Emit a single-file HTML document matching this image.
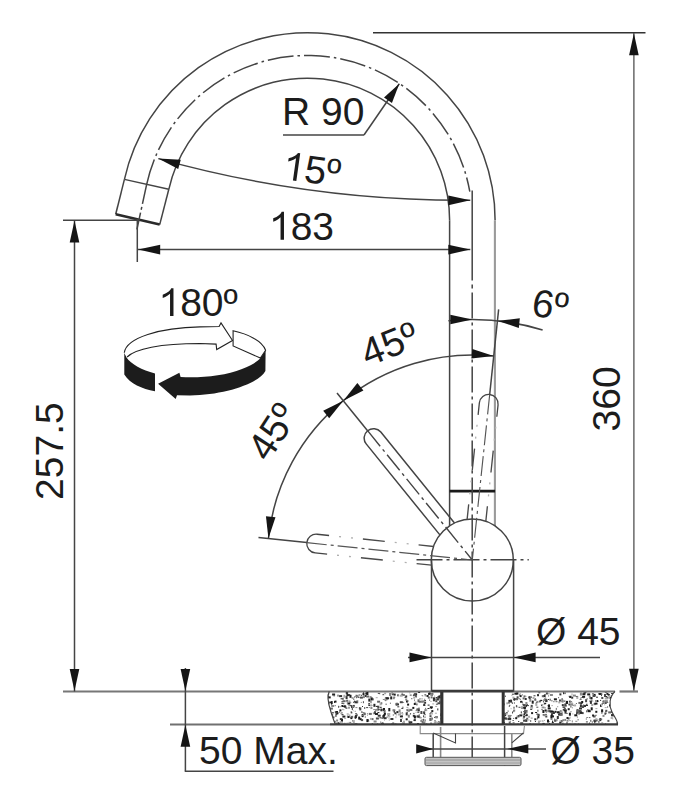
<!DOCTYPE html><html><head><meta charset="utf-8"><style>html,body{margin:0;padding:0;background:#fff;overflow:hidden}svg{display:block}text{font-family:"Liberation Sans",sans-serif}</style></head><body><svg width="700" height="799" viewBox="0 0 700 799">
<rect width="700" height="799" fill="#fff"/>
<path d="M124.42 179.38A187.6 187.6 0 0 1 495.1 220.3" fill="none" stroke="#444" stroke-width="1.5" />
<path d="M168.82 189.3A142.1 142.1 0 0 1 449.6 220.3" fill="none" stroke="#444" stroke-width="1.5" />
<path d="M146.67 184.35A164.8 164.8 0 0 1 469.8 191.68" fill="none" stroke="#444" stroke-width="1.5" stroke-dasharray="26 4 2.5 4" />
<line x1="494.9" y1="220.3" x2="494.9" y2="525.92" stroke="#9a9a9a" stroke-width="2.1" stroke-linecap="butt"/>
<line x1="449.6" y1="220.3" x2="449.6" y2="525.86" stroke="#444" stroke-width="1.5" stroke-linecap="butt"/>
<line x1="449.6" y1="491.2" x2="495.1" y2="491.2" stroke="#1a1a1a" stroke-width="2.8" stroke-linecap="butt"/>
<line x1="124.42" y1="179.38" x2="115.7" y2="214.3" stroke="#444" stroke-width="1.5" stroke-linecap="butt"/>
<line x1="168.82" y1="189.3" x2="159.7" y2="224.6" stroke="#444" stroke-width="1.5" stroke-linecap="butt"/>
<line x1="124.42" y1="179.38" x2="168.82" y2="189.3" stroke="#444" stroke-width="1.5" stroke-linecap="butt"/>
<line x1="115.7" y1="214.3" x2="159.7" y2="224.6" stroke="#2a2a2a" stroke-width="2.6" stroke-linecap="butt"/>
<line x1="146.67" y1="184.35" x2="136.9" y2="229.5" stroke="#444" stroke-width="1.5" stroke-dasharray="20 3 3 3" stroke-linecap="butt"/>
<line x1="373" y1="32.7" x2="645.5" y2="32.7" stroke="#333" stroke-width="1.6" stroke-linecap="butt"/>
<line x1="633.9" y1="33" x2="633.9" y2="691" stroke="#444" stroke-width="1.2" stroke-linecap="butt"/>
<path d="M633.9 33.2L638.7 55.2L629.1 55.2Z" fill="#151515"/>
<path d="M633.9 690.8L629.1 668.8L638.7 668.8Z" fill="#151515"/>
<line x1="63" y1="691.5" x2="615" y2="691.5" stroke="#777" stroke-width="2.2" stroke-linecap="butt"/>
<line x1="619.5" y1="691.5" x2="638" y2="691.5" stroke="#777" stroke-width="2.2" stroke-linecap="butt"/>
<line x1="63" y1="220.2" x2="137.3" y2="220.2" stroke="#444" stroke-width="1.5" stroke-linecap="butt"/>
<line x1="74.5" y1="220.2" x2="74.5" y2="691.4" stroke="#444" stroke-width="1.5" stroke-linecap="butt"/>
<path d="M74.5 220.6L79.3 242.6L69.7 242.6Z" fill="#151515"/>
<path d="M74.5 691L69.7 669L79.3 669Z" fill="#151515"/>
<line x1="137.3" y1="219" x2="137.3" y2="262" stroke="#444" stroke-width="1.5" stroke-linecap="butt"/>
<line x1="138" y1="249.6" x2="470.3" y2="249.6" stroke="#444" stroke-width="1.5" stroke-linecap="butt"/>
<path d="M138.2 249.6L160.2 244.8L160.2 254.4Z" fill="#151515"/>
<path d="M470.3 249.6L448.3 254.4L448.3 244.8Z" fill="#151515"/>
<path d="M158.3 158.6A1130.4 1130.4 0 0 0 470.3 200.2" fill="none" stroke="#444" stroke-width="1.5" />
<path d="M158.3 158.6L180.78 159.82L178.23 169.08Z" fill="#151515"/>
<path d="M470.3 200.2L448.35 205.22L448.25 195.62Z" fill="#151515"/>
<line x1="283" y1="135" x2="364" y2="135" stroke="#444" stroke-width="1.5" stroke-linecap="butt"/>
<line x1="364" y1="135" x2="399.3" y2="83.7" stroke="#444" stroke-width="1.5" stroke-linecap="butt"/>
<path d="M399.3 83.7L391.92 102.9L384.01 97.46Z" fill="#151515"/>
<circle cx="472.3" cy="560" r="41" fill="none" stroke="#444" stroke-width="1.5"/>
<line x1="431.5" y1="560" x2="431.5" y2="691.4" stroke="#444" stroke-width="1.5" stroke-linecap="butt"/>
<line x1="513.6" y1="560" x2="513.6" y2="691.4" stroke="#444" stroke-width="1.5" stroke-linecap="butt"/>
<line x1="416.5" y1="559.8" x2="528.8" y2="559.8" stroke="#444" stroke-width="1.5" stroke-dasharray="26 4 3 4" stroke-linecap="butt"/>
<line x1="472.2" y1="190.5" x2="472.2" y2="758" stroke="#444" stroke-width="1.5" stroke-dasharray="90 4 4 4 26 4 3 4 26 4 3 4 26 4 3 4 26 4 3 4 26 4 3 4 26 4 3 4 26 4 3 4 26 4 3 4 26 4 3 4 26 4 3 4 26 4 3 4 26 4 3 4 26 4 3 4 26 4 3 4 26 4 3 4 26 4 3 4 200" stroke-linecap="butt"/>
<line x1="408" y1="657.4" x2="600" y2="657.4" stroke="#444" stroke-width="1.5" stroke-linecap="butt"/>
<path d="M431.5 657.4L409.5 662.2L409.5 652.6Z" fill="#151515"/>
<path d="M513.6 657.4L535.6 652.6L535.6 662.2Z" fill="#151515"/>
<path d="M478.11 414.81L479.36 402.88A9.4 9.4 0 0 1 498.06 404.84L496.81 416.78" fill="none" stroke="#444" stroke-width="1.3" />
<line x1="496.81" y1="416.78" x2="485.82" y2="521.29" stroke="#4a4a4a" stroke-width="1.35" stroke-dasharray="22 34" stroke-dashoffset="22"/>
<line x1="496.81" y1="416.78" x2="485.82" y2="521.29" stroke="#b0b0b0" stroke-width="1.3" stroke-dasharray="2 10 2 42" stroke-dashoffset="46"/>
<line x1="478.11" y1="414.81" x2="467.12" y2="519.33" stroke="#4a4a4a" stroke-width="1.35" stroke-dasharray="22 34" stroke-dashoffset="22"/>
<line x1="478.11" y1="414.81" x2="467.12" y2="519.33" stroke="#b0b0b0" stroke-width="1.3" stroke-dasharray="2 10 2 42" stroke-dashoffset="46"/>
<line x1="489.69" y1="394.51" x2="472.3" y2="560" stroke="#555" stroke-width="1.15" stroke-dasharray="20 4 3 4" stroke-linecap="butt"/>
<line x1="489.69" y1="394.51" x2="498.64" y2="309.38" stroke="#444" stroke-width="1.5" stroke-linecap="butt"/>
<path d="M454.49 523.07L380.8 432.07A9.4 9.4 0 0 0 366.19 443.9L439.88 534.9" fill="none" stroke="#444" stroke-width="1.5" />
<line x1="367.58" y1="430.68" x2="472.3" y2="560" stroke="#444" stroke-width="1.4" stroke-dasharray="20 4 3 4" stroke-linecap="butt"/>
<line x1="367.58" y1="430.68" x2="337" y2="392.91" stroke="#444" stroke-width="1.5" stroke-linecap="butt"/>
<path d="M327.11 554.19L315.18 552.94A9.4 9.4 0 0 1 317.14 534.24L329.08 535.49" fill="none" stroke="#444" stroke-width="1.3" />
<line x1="329.08" y1="535.49" x2="433.59" y2="546.48" stroke="#4a4a4a" stroke-width="1.35" stroke-dasharray="22 34" stroke-dashoffset="22"/>
<line x1="329.08" y1="535.49" x2="433.59" y2="546.48" stroke="#b0b0b0" stroke-width="1.3" stroke-dasharray="2 10 2 42" stroke-dashoffset="46"/>
<line x1="327.11" y1="554.19" x2="431.63" y2="565.18" stroke="#4a4a4a" stroke-width="1.35" stroke-dasharray="22 34" stroke-dashoffset="22"/>
<line x1="327.11" y1="554.19" x2="431.63" y2="565.18" stroke="#b0b0b0" stroke-width="1.3" stroke-dasharray="2 10 2 42" stroke-dashoffset="46"/>
<line x1="306.81" y1="542.61" x2="472.3" y2="560" stroke="#555" stroke-width="1.15" stroke-dasharray="20 4 3 4" stroke-linecap="butt"/>
<line x1="306.81" y1="542.61" x2="258.48" y2="537.53" stroke="#444" stroke-width="1.5" stroke-linecap="butt"/>
<path d="M448.41 320.69A240.5 240.5 0 0 1 542.62 330.01" fill="none" stroke="#444" stroke-width="1.5" />
<path d="M472.3 319.5L450.3 324.3L450.3 314.7Z" fill="#151515"/>
<path d="M497.44 320.82L519.82 318.34L518.82 327.89Z" fill="#151515"/>
<path d="M343.29 400.69A205 205 0 0 1 493.73 356.12" fill="none" stroke="#444" stroke-width="1.5" />
<path d="M493.73 356.12L471.35 358.6L472.35 349.05Z" fill="#151515"/>
<path d="M343.29 400.69L357.37 383.11L363.41 390.57Z" fill="#151515"/>
<path d="M268.42 538.57A205 205 0 0 1 343.29 400.69" fill="none" stroke="#444" stroke-width="1.5" />
<path d="M343.29 400.69L329.21 418.26L323.17 410.8Z" fill="#151515"/>
<path d="M268.42 538.57L265.95 516.19L275.5 517.19Z" fill="#151515"/>
<clipPath id="cl"><path d="M329.3 691.4C326 697 329 706 331 712C333 718 334 722 335.7 724.8L441.8 724.8L441.8 691.4Z"/></clipPath>
<clipPath id="cr"><path d="M503.2 691.4L615 691.4C609.5 697 608.5 705 612 712C615 718 618 721 617.5 724.4L503.2 724.8Z"/></clipPath>
<g clip-path="url(#cl)">
<rect x="362.5" y="697.0" width="1" height="1" fill="#1a1a1a"/>
<rect x="421.7" y="695.1" width="1" height="1" fill="#666"/>
<rect x="349.5" y="694.8" width="2" height="3" fill="#1a1a1a"/>
<rect x="352.6" y="710.2" width="1" height="1" fill="#aaa"/>
<rect x="391.3" y="723.3" width="1" height="1" fill="#666"/>
<rect x="393.7" y="693.6" width="2" height="2" fill="#1a1a1a"/>
<rect x="390.2" y="696.4" width="2" height="3" fill="#222"/>
<rect x="388.3" y="710.8" width="2" height="1" fill="#aaa"/>
<rect x="405.2" y="695.4" width="2" height="2" fill="#333"/>
<rect x="335.6" y="715.5" width="1" height="1" fill="#666"/>
<rect x="348.5" y="714.5" width="2" height="3" fill="#aaa"/>
<rect x="361.4" y="711.3" width="1" height="1" fill="#333"/>
<rect x="359.7" y="718.2" width="2" height="2" fill="#1a1a1a"/>
<rect x="392.4" y="709.3" width="3" height="2" fill="#888"/>
<rect x="377.4" y="712.1" width="2" height="1" fill="#1a1a1a"/>
<rect x="384.9" y="697.4" width="3" height="2" fill="#222"/>
<rect x="435.1" y="705.9" width="2" height="1" fill="#aaa"/>
<rect x="390.4" y="718.0" width="3" height="2" fill="#333"/>
<rect x="406.7" y="711.6" width="1" height="1" fill="#1a1a1a"/>
<rect x="424.0" y="723.2" width="1" height="1" fill="#888"/>
<rect x="403.0" y="694.0" width="2" height="2" fill="#888"/>
<rect x="392.8" y="714.5" width="1" height="1" fill="#333"/>
<rect x="409.3" y="721.3" width="3" height="2" fill="#1a1a1a"/>
<rect x="435.9" y="703.7" width="2" height="1" fill="#4a4a4a"/>
<rect x="331.0" y="717.4" width="1" height="2" fill="#888"/>
<rect x="353.5" y="704.9" width="1" height="1" fill="#1a1a1a"/>
<rect x="343.8" y="705.3" width="2" height="2" fill="#222"/>
<rect x="421.5" y="720.5" width="2" height="2" fill="#888"/>
<rect x="373.4" y="703.8" width="2" height="3" fill="#222"/>
<rect x="342.0" y="697.8" width="2" height="2" fill="#888"/>
<rect x="351.8" y="708.0" width="1" height="2" fill="#333"/>
<rect x="357.5" y="696.8" width="2" height="1" fill="#333"/>
<rect x="396.6" y="702.5" width="1" height="2" fill="#888"/>
<rect x="426.2" y="723.4" width="1" height="1" fill="#4a4a4a"/>
<rect x="431.0" y="717.7" width="2" height="1" fill="#4a4a4a"/>
<rect x="371.4" y="705.0" width="1" height="1" fill="#888"/>
<rect x="371.7" y="698.3" width="2" height="2" fill="#4a4a4a"/>
<rect x="343.3" y="703.2" width="1" height="1" fill="#1a1a1a"/>
<rect x="324.0" y="697.0" width="2" height="1" fill="#333"/>
<rect x="397.0" y="694.3" width="2" height="2" fill="#666"/>
<rect x="368.8" y="712.9" width="3" height="2" fill="#666"/>
<rect x="367.3" y="696.1" width="1" height="1" fill="#4a4a4a"/>
<rect x="381.2" y="702.3" width="1" height="2" fill="#1a1a1a"/>
<rect x="413.2" y="716.4" width="1" height="1" fill="#aaa"/>
<rect x="406.4" y="709.0" width="2" height="2" fill="#666"/>
<rect x="367.0" y="714.8" width="1" height="1" fill="#aaa"/>
<rect x="386.8" y="724.3" width="2" height="1" fill="#888"/>
<rect x="424.6" y="709.1" width="1" height="2" fill="#333"/>
<rect x="415.9" y="709.6" width="2" height="1" fill="#333"/>
<rect x="399.7" y="712.2" width="2" height="2" fill="#aaa"/>
<rect x="352.5" y="705.2" width="2" height="2" fill="#222"/>
<rect x="385.6" y="703.7" width="1" height="1" fill="#1a1a1a"/>
<rect x="418.0" y="707.6" width="2" height="2" fill="#888"/>
<rect x="396.0" y="703.4" width="3" height="2" fill="#333"/>
<rect x="333.6" y="695.4" width="1" height="1" fill="#222"/>
<rect x="364.2" y="707.9" width="1" height="1" fill="#4a4a4a"/>
<rect x="432.2" y="703.4" width="2" height="1" fill="#aaa"/>
<rect x="402.6" y="722.0" width="2" height="2" fill="#4a4a4a"/>
<rect x="429.8" y="706.3" width="3" height="2" fill="#1a1a1a"/>
<rect x="419.3" y="724.1" width="2" height="3" fill="#4a4a4a"/>
<rect x="371.8" y="723.2" width="1" height="2" fill="#222"/>
<rect x="442.2" y="692.9" width="1" height="1" fill="#aaa"/>
<rect x="402.0" y="712.2" width="1" height="1" fill="#888"/>
<rect x="435.6" y="697.1" width="2" height="1" fill="#222"/>
<rect x="326.5" y="718.4" width="2" height="1" fill="#666"/>
<rect x="413.2" y="696.6" width="2" height="2" fill="#aaa"/>
<rect x="428.0" y="692.9" width="2" height="2" fill="#333"/>
<rect x="383.6" y="717.2" width="3" height="2" fill="#333"/>
<rect x="388.8" y="719.5" width="1" height="1" fill="#888"/>
<rect x="366.1" y="707.1" width="2" height="1" fill="#4a4a4a"/>
<rect x="422.4" y="721.0" width="1" height="2" fill="#666"/>
<rect x="342.1" y="708.8" width="1" height="1" fill="#aaa"/>
<rect x="345.8" y="692.1" width="1" height="2" fill="#222"/>
<rect x="340.8" y="712.4" width="2" height="1" fill="#666"/>
<rect x="331.3" y="714.5" width="2" height="1" fill="#666"/>
<rect x="381.4" y="717.6" width="2" height="1" fill="#1a1a1a"/>
<rect x="353.6" y="701.1" width="2" height="1" fill="#666"/>
<rect x="377.8" y="692.9" width="2" height="1" fill="#4a4a4a"/>
<rect x="362.7" y="724.1" width="2" height="1" fill="#222"/>
<rect x="406.4" y="706.9" width="2" height="1" fill="#aaa"/>
<rect x="380.9" y="723.1" width="2" height="1" fill="#333"/>
<rect x="433.8" y="721.5" width="2" height="2" fill="#aaa"/>
<rect x="377.3" y="705.7" width="2" height="3" fill="#4a4a4a"/>
<rect x="361.6" y="714.1" width="2" height="3" fill="#1a1a1a"/>
<rect x="349.3" y="702.0" width="2" height="1" fill="#aaa"/>
<rect x="342.4" y="715.6" width="3" height="2" fill="#222"/>
<rect x="354.1" y="696.5" width="1" height="1" fill="#222"/>
<rect x="412.9" y="695.1" width="1" height="1" fill="#222"/>
<rect x="441.8" y="719.5" width="1" height="2" fill="#888"/>
<rect x="375.4" y="709.0" width="3" height="2" fill="#4a4a4a"/>
<rect x="347.3" y="702.5" width="3" height="2" fill="#1a1a1a"/>
<rect x="364.2" y="707.1" width="1" height="1" fill="#4a4a4a"/>
<rect x="363.4" y="712.6" width="2" height="1" fill="#1a1a1a"/>
<rect x="337.4" y="722.3" width="2" height="2" fill="#1a1a1a"/>
<rect x="334.0" y="701.0" width="1" height="2" fill="#333"/>
<rect x="413.9" y="719.1" width="2" height="2" fill="#4a4a4a"/>
<rect x="341.8" y="722.3" width="1" height="1" fill="#888"/>
<rect x="362.9" y="701.2" width="1" height="2" fill="#4a4a4a"/>
<rect x="430.5" y="700.9" width="1" height="1" fill="#888"/>
<rect x="334.5" y="700.6" width="2" height="2" fill="#1a1a1a"/>
<rect x="355.5" y="696.0" width="1" height="1" fill="#333"/>
<rect x="442.3" y="705.8" width="2" height="2" fill="#666"/>
<rect x="339.4" y="709.4" width="2" height="2" fill="#1a1a1a"/>
<rect x="439.3" y="700.6" width="1" height="2" fill="#222"/>
<rect x="434.9" y="712.7" width="2" height="1" fill="#aaa"/>
<rect x="348.5" y="706.7" width="1" height="2" fill="#333"/>
<rect x="365.3" y="692.6" width="2" height="2" fill="#1a1a1a"/>
<rect x="325.8" y="716.2" width="2" height="1" fill="#222"/>
<rect x="385.2" y="700.1" width="1" height="1" fill="#1a1a1a"/>
<rect x="402.3" y="713.5" width="1" height="1" fill="#666"/>
<rect x="423.3" y="705.0" width="2" height="1" fill="#333"/>
<rect x="405.8" y="724.4" width="3" height="2" fill="#222"/>
<rect x="423.0" y="715.3" width="1" height="2" fill="#4a4a4a"/>
<rect x="441.7" y="724.4" width="1" height="2" fill="#1a1a1a"/>
<rect x="332.4" y="716.4" width="2" height="2" fill="#4a4a4a"/>
<rect x="343.4" y="694.8" width="2" height="3" fill="#aaa"/>
<rect x="384.2" y="724.0" width="2" height="2" fill="#888"/>
<rect x="358.9" y="707.2" width="1" height="2" fill="#333"/>
<rect x="377.1" y="700.7" width="3" height="2" fill="#666"/>
<rect x="362.5" y="693.1" width="2" height="2" fill="#222"/>
<rect x="366.4" y="692.0" width="2" height="3" fill="#1a1a1a"/>
<rect x="380.5" y="708.6" width="2" height="2" fill="#222"/>
<rect x="384.1" y="692.2" width="2" height="2" fill="#aaa"/>
<rect x="334.7" y="705.2" width="1" height="1" fill="#4a4a4a"/>
<rect x="326.7" y="702.0" width="2" height="2" fill="#1a1a1a"/>
<rect x="393.7" y="709.5" width="1" height="2" fill="#888"/>
<rect x="430.2" y="717.9" width="2" height="3" fill="#aaa"/>
<rect x="362.8" y="724.5" width="1" height="2" fill="#333"/>
<rect x="410.2" y="713.2" width="1" height="1" fill="#aaa"/>
<rect x="423.4" y="721.4" width="2" height="3" fill="#888"/>
<rect x="407.4" y="708.7" width="2" height="1" fill="#aaa"/>
<rect x="384.0" y="719.6" width="1" height="1" fill="#aaa"/>
<rect x="405.7" y="718.3" width="2" height="2" fill="#1a1a1a"/>
<rect x="327.7" y="696.4" width="3" height="2" fill="#1a1a1a"/>
<rect x="368.8" y="706.9" width="1" height="1" fill="#888"/>
<rect x="326.2" y="709.5" width="2" height="2" fill="#4a4a4a"/>
<rect x="355.4" y="707.1" width="2" height="1" fill="#888"/>
<rect x="435.0" y="721.6" width="2" height="1" fill="#888"/>
<rect x="386.6" y="716.6" width="1" height="1" fill="#333"/>
<rect x="420.3" y="719.9" width="2" height="2" fill="#888"/>
<rect x="414.0" y="699.6" width="1" height="1" fill="#4a4a4a"/>
<rect x="424.6" y="694.5" width="2" height="2" fill="#aaa"/>
<rect x="329.6" y="712.9" width="2" height="2" fill="#1a1a1a"/>
<rect x="395.4" y="702.9" width="2" height="2" fill="#666"/>
<rect x="391.6" y="692.4" width="1" height="1" fill="#4a4a4a"/>
<rect x="356.0" y="714.2" width="2" height="2" fill="#888"/>
<rect x="382.3" y="715.4" width="2" height="2" fill="#4a4a4a"/>
<rect x="379.4" y="717.3" width="2" height="1" fill="#222"/>
<rect x="361.1" y="694.8" width="1" height="1" fill="#1a1a1a"/>
<rect x="358.5" y="694.5" width="2" height="1" fill="#4a4a4a"/>
<rect x="442.3" y="704.8" width="2" height="2" fill="#1a1a1a"/>
<rect x="393.2" y="696.7" width="2" height="1" fill="#333"/>
<rect x="437.4" y="696.4" width="2" height="1" fill="#333"/>
<rect x="429.5" y="715.2" width="2" height="2" fill="#4a4a4a"/>
<rect x="430.8" y="708.0" width="1" height="1" fill="#222"/>
<rect x="324.4" y="708.2" width="1" height="1" fill="#4a4a4a"/>
<rect x="359.9" y="696.6" width="3" height="2" fill="#4a4a4a"/>
<rect x="361.6" y="719.7" width="1" height="1" fill="#333"/>
<rect x="413.3" y="719.7" width="2" height="1" fill="#222"/>
<rect x="408.8" y="721.8" width="2" height="2" fill="#333"/>
<rect x="368.3" y="705.0" width="2" height="1" fill="#333"/>
<rect x="434.1" y="716.9" width="1" height="1" fill="#333"/>
<rect x="336.1" y="719.5" width="2" height="2" fill="#888"/>
<rect x="435.3" y="700.2" width="2" height="2" fill="#4a4a4a"/>
<rect x="384.8" y="698.3" width="3" height="2" fill="#aaa"/>
<rect x="437.8" y="721.2" width="2" height="3" fill="#666"/>
<rect x="389.4" y="715.7" width="1" height="1" fill="#888"/>
<rect x="372.9" y="712.3" width="1" height="2" fill="#888"/>
<rect x="427.5" y="708.0" width="2" height="1" fill="#222"/>
<rect x="344.3" y="705.7" width="2" height="2" fill="#333"/>
<rect x="354.4" y="716.4" width="2" height="2" fill="#4a4a4a"/>
<rect x="402.1" y="701.9" width="2" height="1" fill="#888"/>
<rect x="370.9" y="697.5" width="1" height="2" fill="#1a1a1a"/>
<rect x="348.7" y="721.9" width="1" height="1" fill="#666"/>
<rect x="350.2" y="721.9" width="1" height="1" fill="#4a4a4a"/>
<rect x="340.6" y="698.3" width="2" height="1" fill="#222"/>
<rect x="364.7" y="695.0" width="2" height="2" fill="#333"/>
<rect x="354.7" y="710.8" width="1" height="1" fill="#888"/>
<rect x="427.6" y="704.6" width="2" height="1" fill="#222"/>
<rect x="368.8" y="703.2" width="1" height="1" fill="#4a4a4a"/>
<rect x="357.0" y="723.9" width="1" height="2" fill="#888"/>
<rect x="383.9" y="712.8" width="2" height="2" fill="#1a1a1a"/>
<rect x="356.3" y="700.2" width="2" height="3" fill="#888"/>
<rect x="377.1" y="723.5" width="1" height="1" fill="#222"/>
<rect x="327.8" y="715.4" width="1" height="1" fill="#666"/>
<rect x="382.3" y="694.4" width="2" height="1" fill="#aaa"/>
<rect x="379.7" y="706.8" width="2" height="1" fill="#222"/>
<rect x="342.4" y="709.2" width="2" height="1" fill="#aaa"/>
<rect x="409.9" y="713.4" width="1" height="1" fill="#1a1a1a"/>
<rect x="389.6" y="693.3" width="1" height="2" fill="#222"/>
<rect x="391.8" y="693.2" width="2" height="2" fill="#222"/>
<rect x="398.6" y="709.4" width="2" height="3" fill="#888"/>
<rect x="414.9" y="695.3" width="2" height="2" fill="#666"/>
<rect x="436.3" y="698.3" width="2" height="2" fill="#222"/>
<rect x="418.1" y="692.0" width="2" height="1" fill="#333"/>
<rect x="442.6" y="701.2" width="3" height="2" fill="#888"/>
<rect x="423.9" y="700.0" width="2" height="1" fill="#222"/>
<rect x="389.1" y="693.0" width="2" height="3" fill="#888"/>
<rect x="401.3" y="693.8" width="2" height="2" fill="#4a4a4a"/>
<rect x="429.3" y="713.4" width="2" height="1" fill="#333"/>
<rect x="351.1" y="706.0" width="3" height="2" fill="#222"/>
<rect x="382.7" y="715.0" width="2" height="3" fill="#333"/>
<rect x="405.2" y="698.5" width="2" height="2" fill="#888"/>
<rect x="424.6" y="694.2" width="1" height="1" fill="#222"/>
<rect x="361.1" y="719.1" width="2" height="2" fill="#4a4a4a"/>
<rect x="350.4" y="717.1" width="2" height="2" fill="#1a1a1a"/>
<rect x="437.3" y="708.4" width="1" height="2" fill="#222"/>
<rect x="381.7" y="722.0" width="1" height="1" fill="#666"/>
<rect x="341.4" y="705.0" width="2" height="2" fill="#1a1a1a"/>
<rect x="439.9" y="696.7" width="1" height="1" fill="#888"/>
<rect x="331.2" y="705.0" width="3" height="2" fill="#888"/>
<rect x="337.5" y="694.6" width="1" height="2" fill="#333"/>
<rect x="346.7" y="713.5" width="2" height="1" fill="#888"/>
<rect x="379.6" y="702.3" width="2" height="3" fill="#aaa"/>
<rect x="368.5" y="702.9" width="1" height="2" fill="#1a1a1a"/>
<rect x="324.3" y="701.2" width="3" height="2" fill="#4a4a4a"/>
<rect x="437.7" y="696.1" width="2" height="2" fill="#4a4a4a"/>
<rect x="366.4" y="719.1" width="2" height="3" fill="#1a1a1a"/>
<rect x="329.9" y="707.6" width="3" height="2" fill="#666"/>
<rect x="433.4" y="698.4" width="3" height="2" fill="#888"/>
<rect x="430.7" y="693.0" width="2" height="3" fill="#222"/>
<rect x="420.6" y="717.3" width="1" height="1" fill="#4a4a4a"/>
<rect x="328.1" y="694.1" width="1" height="1" fill="#333"/>
<rect x="347.2" y="694.1" width="3" height="2" fill="#333"/>
<rect x="356.4" y="723.6" width="1" height="1" fill="#333"/>
<rect x="412.8" y="714.8" width="2" height="2" fill="#333"/>
<rect x="324.4" y="716.9" width="2" height="1" fill="#1a1a1a"/>
<rect x="422.3" y="695.5" width="1" height="1" fill="#aaa"/>
<rect x="370.0" y="700.3" width="2" height="3" fill="#aaa"/>
<rect x="382.7" y="722.6" width="1" height="2" fill="#1a1a1a"/>
<rect x="419.5" y="716.4" width="1" height="2" fill="#666"/>
<rect x="352.1" y="720.4" width="1" height="1" fill="#333"/>
<rect x="417.3" y="711.7" width="2" height="1" fill="#222"/>
<rect x="370.6" y="697.3" width="2" height="3" fill="#1a1a1a"/>
<rect x="401.3" y="707.9" width="2" height="1" fill="#333"/>
<rect x="343.1" y="706.1" width="2" height="1" fill="#1a1a1a"/>
<rect x="355.5" y="694.8" width="2" height="1" fill="#4a4a4a"/>
<rect x="383.3" y="715.4" width="1" height="1" fill="#222"/>
<rect x="351.9" y="705.8" width="2" height="2" fill="#888"/>
<rect x="388.1" y="717.5" width="2" height="1" fill="#aaa"/>
<rect x="424.1" y="701.7" width="2" height="2" fill="#333"/>
<rect x="354.2" y="700.6" width="1" height="1" fill="#222"/>
<rect x="346.1" y="699.8" width="2" height="2" fill="#666"/>
<rect x="346.4" y="694.1" width="2" height="2" fill="#222"/>
<rect x="384.4" y="699.6" width="2" height="1" fill="#888"/>
<rect x="379.2" y="693.2" width="1" height="1" fill="#4a4a4a"/>
<rect x="429.1" y="699.6" width="1" height="1" fill="#333"/>
<rect x="328.8" y="701.7" width="2" height="1" fill="#1a1a1a"/>
<rect x="346.6" y="724.1" width="2" height="2" fill="#1a1a1a"/>
<rect x="368.3" y="720.6" width="1" height="1" fill="#666"/>
<rect x="354.9" y="717.7" width="1" height="1" fill="#1a1a1a"/>
<rect x="399.9" y="715.4" width="3" height="2" fill="#222"/>
<rect x="328.5" y="703.2" width="1" height="1" fill="#222"/>
<rect x="443.0" y="693.3" width="2" height="2" fill="#aaa"/>
<rect x="325.4" y="702.8" width="3" height="2" fill="#222"/>
<rect x="397.9" y="694.6" width="1" height="1" fill="#aaa"/>
<rect x="383.0" y="708.0" width="2" height="3" fill="#1a1a1a"/>
<rect x="418.7" y="713.9" width="1" height="2" fill="#888"/>
<rect x="387.5" y="713.6" width="2" height="3" fill="#888"/>
<rect x="356.3" y="724.6" width="2" height="2" fill="#4a4a4a"/>
<rect x="437.4" y="702.3" width="3" height="2" fill="#4a4a4a"/>
<rect x="373.6" y="720.5" width="3" height="2" fill="#888"/>
<rect x="347.5" y="716.0" width="2" height="2" fill="#1a1a1a"/>
<rect x="375.7" y="697.2" width="2" height="1" fill="#aaa"/>
<rect x="334.8" y="711.1" width="3" height="2" fill="#4a4a4a"/>
<rect x="416.0" y="696.3" width="1" height="1" fill="#666"/>
<rect x="341.0" y="718.6" width="2" height="3" fill="#1a1a1a"/>
<rect x="392.2" y="722.6" width="2" height="1" fill="#222"/>
<rect x="341.4" y="701.3" width="2" height="1" fill="#222"/>
<rect x="434.1" y="695.6" width="1" height="1" fill="#aaa"/>
<rect x="419.8" y="723.9" width="2" height="2" fill="#333"/>
<rect x="339.1" y="723.1" width="1" height="1" fill="#333"/>
<rect x="330.4" y="722.6" width="2" height="3" fill="#1a1a1a"/>
<rect x="431.6" y="712.5" width="1" height="2" fill="#888"/>
<rect x="417.5" y="699.3" width="2" height="3" fill="#666"/>
<rect x="424.7" y="719.4" width="1" height="2" fill="#666"/>
<rect x="350.0" y="705.2" width="2" height="1" fill="#222"/>
<rect x="369.6" y="696.1" width="2" height="2" fill="#888"/>
<rect x="421.1" y="698.4" width="2" height="1" fill="#aaa"/>
<rect x="414.1" y="693.3" width="3" height="2" fill="#1a1a1a"/>
<rect x="370.4" y="707.0" width="2" height="2" fill="#888"/>
<rect x="374.0" y="711.2" width="2" height="3" fill="#4a4a4a"/>
<rect x="402.4" y="706.7" width="1" height="1" fill="#222"/>
<rect x="326.8" y="712.4" width="1" height="1" fill="#4a4a4a"/>
<rect x="352.0" y="717.2" width="1" height="1" fill="#aaa"/>
<rect x="345.4" y="707.6" width="2" height="1" fill="#1a1a1a"/>
<rect x="339.3" y="706.2" width="2" height="1" fill="#aaa"/>
<rect x="376.6" y="708.8" width="1" height="1" fill="#1a1a1a"/>
<rect x="399.7" y="694.7" width="3" height="2" fill="#aaa"/>
<rect x="409.7" y="694.6" width="2" height="1" fill="#4a4a4a"/>
<rect x="401.7" y="717.9" width="1" height="1" fill="#aaa"/>
<rect x="331.9" y="712.3" width="2" height="1" fill="#222"/>
<rect x="339.7" y="721.2" width="2" height="2" fill="#aaa"/>
<rect x="433.0" y="697.4" width="2" height="2" fill="#1a1a1a"/>
<rect x="423.1" y="712.1" width="2" height="2" fill="#222"/>
<rect x="362.5" y="712.2" width="1" height="1" fill="#222"/>
<rect x="354.2" y="723.8" width="1" height="1" fill="#222"/>
<rect x="394.4" y="712.3" width="2" height="2" fill="#333"/>
<rect x="368.3" y="698.6" width="2" height="3" fill="#222"/>
<rect x="399.8" y="701.2" width="3" height="2" fill="#4a4a4a"/>
<rect x="344.1" y="717.9" width="2" height="1" fill="#aaa"/>
<rect x="387.2" y="713.0" width="3" height="2" fill="#aaa"/>
<rect x="377.9" y="709.2" width="2" height="1" fill="#333"/>
<rect x="442.2" y="712.8" width="2" height="3" fill="#888"/>
<rect x="418.9" y="700.7" width="3" height="2" fill="#666"/>
<rect x="341.4" y="702.9" width="2" height="1" fill="#4a4a4a"/>
<rect x="351.4" y="712.3" width="1" height="1" fill="#333"/>
<rect x="421.6" y="700.4" width="3" height="2" fill="#888"/>
<rect x="324.2" y="693.1" width="1" height="2" fill="#333"/>
<rect x="397.3" y="706.3" width="2" height="1" fill="#333"/>
<rect x="430.6" y="696.4" width="2" height="2" fill="#666"/>
<rect x="401.7" y="692.7" width="1" height="1" fill="#666"/>
<rect x="366.2" y="695.5" width="3" height="2" fill="#666"/>
<rect x="350.7" y="711.3" width="1" height="2" fill="#222"/>
<rect x="367.6" y="719.3" width="1" height="2" fill="#222"/>
<rect x="325.7" y="718.4" width="1" height="2" fill="#4a4a4a"/>
<rect x="335.4" y="713.1" width="2" height="2" fill="#4a4a4a"/>
<rect x="420.6" y="723.9" width="1" height="1" fill="#888"/>
<rect x="421.7" y="721.5" width="1" height="1" fill="#666"/>
<rect x="435.5" y="716.2" width="2" height="2" fill="#222"/>
<rect x="431.5" y="693.5" width="2" height="1" fill="#1a1a1a"/>
<rect x="372.3" y="699.8" width="1" height="1" fill="#aaa"/>
<rect x="336.5" y="712.2" width="2" height="2" fill="#222"/>
<rect x="373.2" y="709.1" width="2" height="1" fill="#888"/>
<rect x="400.3" y="718.8" width="1" height="2" fill="#666"/>
<rect x="360.8" y="701.9" width="1" height="1" fill="#888"/>
<rect x="417.2" y="715.6" width="1" height="1" fill="#4a4a4a"/>
<rect x="424.5" y="716.6" width="1" height="1" fill="#1a1a1a"/>
<rect x="412.3" y="706.9" width="2" height="2" fill="#1a1a1a"/>
<rect x="355.1" y="713.3" width="2" height="1" fill="#333"/>
<rect x="430.1" y="722.5" width="2" height="2" fill="#888"/>
<rect x="330.3" y="713.0" width="2" height="3" fill="#888"/>
<rect x="417.8" y="709.3" width="2" height="2" fill="#333"/>
<rect x="400.4" y="723.8" width="2" height="2" fill="#1a1a1a"/>
<rect x="428.7" y="692.5" width="2" height="2" fill="#222"/>
<rect x="424.2" y="698.7" width="1" height="2" fill="#888"/>
<rect x="432.9" y="698.3" width="2" height="3" fill="#333"/>
<rect x="395.5" y="704.5" width="2" height="1" fill="#4a4a4a"/>
<rect x="380.2" y="709.5" width="1" height="1" fill="#aaa"/>
<rect x="327.2" y="723.5" width="2" height="2" fill="#666"/>
<rect x="429.3" y="718.0" width="2" height="3" fill="#666"/>
<rect x="393.7" y="710.7" width="1" height="2" fill="#222"/>
<rect x="327.9" y="695.7" width="1" height="2" fill="#333"/>
<rect x="440.3" y="715.1" width="1" height="1" fill="#1a1a1a"/>
<rect x="340.5" y="713.2" width="1" height="1" fill="#888"/>
<rect x="332.1" y="693.5" width="3" height="2" fill="#222"/>
<rect x="421.3" y="719.0" width="2" height="1" fill="#aaa"/>
<rect x="413.9" y="715.5" width="2" height="3" fill="#1a1a1a"/>
<rect x="353.3" y="698.7" width="1" height="1" fill="#1a1a1a"/>
<rect x="437.0" y="722.1" width="2" height="1" fill="#aaa"/>
<rect x="413.4" y="712.9" width="1" height="1" fill="#1a1a1a"/>
<rect x="339.8" y="718.1" width="2" height="2" fill="#333"/>
<rect x="362.0" y="706.0" width="1" height="1" fill="#333"/>
<rect x="354.5" y="701.3" width="3" height="2" fill="#333"/>
<rect x="415.5" y="711.9" width="1" height="1" fill="#aaa"/>
<rect x="358.2" y="716.6" width="2" height="3" fill="#1a1a1a"/>
<rect x="375.9" y="717.5" width="3" height="2" fill="#4a4a4a"/>
<rect x="407.9" y="709.8" width="2" height="2" fill="#888"/>
<rect x="426.6" y="695.0" width="2" height="2" fill="#222"/>
<rect x="375.9" y="709.3" width="2" height="2" fill="#aaa"/>
<rect x="413.3" y="693.8" width="3" height="2" fill="#4a4a4a"/>
<rect x="335.4" y="714.9" width="1" height="2" fill="#4a4a4a"/>
<rect x="394.5" y="723.6" width="2" height="1" fill="#333"/>
<rect x="392.8" y="697.2" width="2" height="2" fill="#888"/>
<rect x="351.6" y="697.5" width="2" height="1" fill="#4a4a4a"/>
<rect x="417.8" y="715.0" width="2" height="1" fill="#888"/>
<rect x="362.9" y="695.1" width="2" height="3" fill="#888"/>
<rect x="334.3" y="721.3" width="1" height="1" fill="#333"/>
<rect x="348.5" y="700.7" width="2" height="1" fill="#666"/>
<rect x="344.4" y="724.4" width="2" height="2" fill="#4a4a4a"/>
<rect x="339.1" y="711.6" width="1" height="1" fill="#333"/>
<rect x="393.2" y="709.2" width="1" height="1" fill="#888"/>
<rect x="389.9" y="702.7" width="1" height="1" fill="#4a4a4a"/>
<rect x="406.0" y="700.5" width="2" height="2" fill="#222"/>
<rect x="363.8" y="713.2" width="2" height="2" fill="#666"/>
<rect x="346.8" y="701.9" width="1" height="2" fill="#888"/>
<rect x="342.6" y="700.2" width="3" height="2" fill="#666"/>
<rect x="386.1" y="697.3" width="3" height="2" fill="#222"/>
<rect x="354.8" y="723.5" width="2" height="1" fill="#222"/>
<rect x="438.5" y="695.4" width="2" height="3" fill="#222"/>
<rect x="441.1" y="718.2" width="2" height="2" fill="#4a4a4a"/>
<rect x="356.6" y="695.6" width="2" height="1" fill="#333"/>
<rect x="348.6" y="704.8" width="1" height="1" fill="#1a1a1a"/>
<rect x="371.5" y="718.1" width="2" height="2" fill="#666"/>
<rect x="440.7" y="701.8" width="1" height="1" fill="#222"/>
<rect x="354.6" y="716.4" width="1" height="1" fill="#888"/>
<rect x="352.8" y="720.1" width="2" height="3" fill="#aaa"/>
<rect x="351.2" y="715.8" width="2" height="2" fill="#888"/>
<rect x="345.6" y="696.1" width="2" height="3" fill="#333"/>
<rect x="354.9" y="715.1" width="2" height="3" fill="#222"/>
<rect x="417.1" y="715.5" width="1" height="2" fill="#333"/>
<rect x="425.1" y="707.9" width="1" height="1" fill="#666"/>
<rect x="426.2" y="709.1" width="1" height="2" fill="#888"/>
<rect x="363.0" y="692.4" width="1" height="1" fill="#1a1a1a"/>
<rect x="328.5" y="709.9" width="1" height="2" fill="#888"/>
<rect x="417.0" y="723.0" width="2" height="1" fill="#333"/>
<rect x="336.0" y="711.0" width="2" height="1" fill="#222"/>
<rect x="409.4" y="708.9" width="3" height="2" fill="#666"/>
<rect x="364.8" y="716.5" width="1" height="1" fill="#222"/>
<rect x="441.8" y="698.1" width="2" height="1" fill="#aaa"/>
<rect x="435.0" y="716.1" width="3" height="2" fill="#888"/>
<rect x="330.7" y="701.1" width="2" height="3" fill="#1a1a1a"/>
<rect x="325.6" y="705.8" width="2" height="3" fill="#888"/>
<rect x="407.1" y="703.6" width="2" height="2" fill="#1a1a1a"/>
<rect x="350.7" y="716.5" width="2" height="1" fill="#222"/>
<rect x="442.3" y="723.7" width="1" height="1" fill="#222"/>
<rect x="343.6" y="722.7" width="2" height="1" fill="#aaa"/>
<rect x="419.0" y="698.4" width="2" height="1" fill="#888"/>
<rect x="350.9" y="723.8" width="3" height="2" fill="#888"/>
<rect x="400.0" y="719.0" width="2" height="3" fill="#4a4a4a"/>
<rect x="442.5" y="717.1" width="1" height="2" fill="#aaa"/>
<rect x="423.2" y="703.7" width="2" height="2" fill="#333"/>
<rect x="407.8" y="714.7" width="2" height="3" fill="#888"/>
<rect x="346.1" y="692.1" width="2" height="2" fill="#333"/>
<rect x="353.2" y="702.0" width="1" height="1" fill="#4a4a4a"/>
<rect x="375.0" y="713.0" width="3" height="2" fill="#222"/>
<rect x="434.5" y="720.2" width="1" height="1" fill="#1a1a1a"/>
<rect x="422.5" y="721.9" width="1" height="2" fill="#666"/>
<rect x="422.9" y="712.9" width="1" height="1" fill="#888"/>
<rect x="325.4" y="723.4" width="2" height="2" fill="#333"/>
<rect x="396.4" y="711.1" width="2" height="2" fill="#222"/>
<rect x="416.4" y="703.4" width="1" height="2" fill="#222"/>
<rect x="431.6" y="718.1" width="1" height="2" fill="#666"/>
<rect x="430.0" y="712.1" width="2" height="1" fill="#888"/>
<rect x="431.3" y="710.1" width="2" height="2" fill="#222"/>
<rect x="382.8" y="699.0" width="2" height="1" fill="#888"/>
<rect x="423.9" y="714.2" width="2" height="1" fill="#666"/>
<rect x="338.1" y="705.8" width="1" height="2" fill="#4a4a4a"/>
<rect x="382.7" y="693.9" width="1" height="1" fill="#222"/>
<rect x="407.4" y="700.1" width="1" height="2" fill="#666"/>
<rect x="395.4" y="716.2" width="1" height="2" fill="#aaa"/>
<rect x="362.2" y="715.0" width="1" height="1" fill="#888"/>
<rect x="359.3" y="707.4" width="2" height="3" fill="#4a4a4a"/>
<rect x="443.0" y="714.3" width="1" height="2" fill="#888"/>
<rect x="366.9" y="713.3" width="1" height="1" fill="#666"/>
<rect x="329.5" y="716.3" width="3" height="2" fill="#aaa"/>
<rect x="440.8" y="708.9" width="1" height="1" fill="#aaa"/>
<rect x="430.8" y="693.1" width="2" height="3" fill="#888"/>
<rect x="339.1" y="695.1" width="3" height="2" fill="#333"/>
<rect x="380.5" y="709.3" width="2" height="2" fill="#333"/>
<rect x="375.8" y="705.9" width="2" height="1" fill="#1a1a1a"/>
<rect x="422.4" y="701.7" width="1" height="1" fill="#4a4a4a"/>
<rect x="363.7" y="724.5" width="2" height="1" fill="#333"/>
<rect x="440.0" y="713.6" width="2" height="1" fill="#333"/>
<rect x="346.9" y="715.5" width="1" height="2" fill="#666"/>
<rect x="439.8" y="694.9" width="1" height="1" fill="#4a4a4a"/>
<rect x="410.0" y="721.2" width="2" height="1" fill="#666"/>
<rect x="329.9" y="701.9" width="1" height="1" fill="#1a1a1a"/>
<rect x="346.6" y="722.4" width="1" height="1" fill="#aaa"/>
<rect x="383.6" y="709.9" width="2" height="3" fill="#666"/>
<rect x="341.5" y="714.2" width="2" height="1" fill="#222"/>
<rect x="328.7" y="712.9" width="1" height="2" fill="#1a1a1a"/>
<rect x="403.0" y="720.7" width="2" height="3" fill="#aaa"/>
<rect x="336.0" y="722.7" width="1" height="1" fill="#333"/>
<rect x="427.8" y="696.6" width="2" height="2" fill="#666"/>
<rect x="408.5" y="720.5" width="1" height="2" fill="#4a4a4a"/>
<rect x="328.1" y="692.7" width="1" height="1" fill="#4a4a4a"/>
<rect x="391.5" y="693.3" width="2" height="1" fill="#aaa"/>
<rect x="420.4" y="711.0" width="2" height="3" fill="#4a4a4a"/>
<rect x="332.0" y="714.4" width="1" height="2" fill="#4a4a4a"/>
<rect x="415.6" y="710.1" width="2" height="1" fill="#888"/>
<rect x="380.2" y="721.6" width="1" height="1" fill="#4a4a4a"/>
<rect x="324.6" y="714.6" width="2" height="1" fill="#aaa"/>
<rect x="334.5" y="720.7" width="1" height="2" fill="#4a4a4a"/>
<rect x="326.1" y="715.7" width="2" height="2" fill="#4a4a4a"/>
<rect x="411.3" y="698.2" width="1" height="1" fill="#333"/>
<rect x="416.1" y="715.5" width="1" height="2" fill="#888"/>
<rect x="414.4" y="701.7" width="2" height="1" fill="#888"/>
<rect x="383.3" y="714.1" width="2" height="2" fill="#1a1a1a"/>
<rect x="409.3" y="692.4" width="1" height="1" fill="#888"/>
<rect x="405.7" y="712.4" width="2" height="3" fill="#333"/>
<rect x="361.2" y="711.8" width="1" height="1" fill="#666"/>
<rect x="331.1" y="704.1" width="1" height="1" fill="#4a4a4a"/>
<rect x="404.5" y="696.8" width="2" height="1" fill="#333"/>
<rect x="437.5" y="697.4" width="2" height="3" fill="#4a4a4a"/>
<rect x="369.9" y="717.9" width="2" height="2" fill="#aaa"/>
<rect x="413.8" y="703.0" width="2" height="2" fill="#1a1a1a"/>
<rect x="398.0" y="713.5" width="3" height="2" fill="#aaa"/>
<rect x="396.1" y="724.3" width="1" height="2" fill="#666"/>
<rect x="423.1" y="711.3" width="2" height="2" fill="#4a4a4a"/>
<rect x="370.1" y="704.4" width="2" height="2" fill="#aaa"/>
<rect x="377.7" y="714.7" width="3" height="2" fill="#333"/>
<rect x="355.9" y="697.2" width="1" height="1" fill="#333"/>
<rect x="423.2" y="718.8" width="1" height="2" fill="#333"/>
<rect x="440.1" y="718.3" width="2" height="1" fill="#888"/>
<rect x="416.5" y="708.5" width="2" height="1" fill="#1a1a1a"/>
<rect x="388.3" y="708.0" width="2" height="3" fill="#222"/>
<rect x="417.7" y="715.8" width="2" height="2" fill="#333"/>
<rect x="396.2" y="714.4" width="1" height="1" fill="#888"/>
<rect x="348.6" y="700.4" width="1" height="1" fill="#aaa"/>
</g>
<g clip-path="url(#cr)">
<rect x="547.4" y="709.8" width="2" height="1" fill="#aaa"/>
<rect x="543.9" y="694.1" width="2" height="3" fill="#666"/>
<rect x="563.5" y="700.6" width="2" height="1" fill="#333"/>
<rect x="558.2" y="711.4" width="2" height="2" fill="#222"/>
<rect x="524.7" y="698.0" width="2" height="2" fill="#333"/>
<rect x="570.2" y="703.8" width="2" height="1" fill="#aaa"/>
<rect x="519.6" y="693.5" width="1" height="1" fill="#333"/>
<rect x="604.2" y="704.3" width="1" height="1" fill="#aaa"/>
<rect x="511.6" y="702.4" width="1" height="1" fill="#333"/>
<rect x="535.1" y="712.0" width="2" height="1" fill="#1a1a1a"/>
<rect x="526.1" y="720.7" width="1" height="1" fill="#666"/>
<rect x="568.9" y="700.6" width="2" height="2" fill="#4a4a4a"/>
<rect x="513.5" y="706.7" width="1" height="2" fill="#333"/>
<rect x="601.6" y="703.2" width="1" height="2" fill="#4a4a4a"/>
<rect x="511.9" y="693.7" width="2" height="1" fill="#333"/>
<rect x="604.7" y="707.1" width="2" height="1" fill="#aaa"/>
<rect x="572.6" y="705.1" width="2" height="1" fill="#888"/>
<rect x="615.2" y="700.5" width="2" height="2" fill="#888"/>
<rect x="512.6" y="722.4" width="2" height="1" fill="#4a4a4a"/>
<rect x="523.6" y="720.0" width="3" height="2" fill="#222"/>
<rect x="619.0" y="699.3" width="1" height="1" fill="#333"/>
<rect x="613.1" y="694.0" width="2" height="1" fill="#1a1a1a"/>
<rect x="600.8" y="693.6" width="2" height="1" fill="#888"/>
<rect x="589.3" y="717.1" width="1" height="1" fill="#1a1a1a"/>
<rect x="513.9" y="702.5" width="1" height="1" fill="#222"/>
<rect x="581.9" y="701.9" width="1" height="1" fill="#aaa"/>
<rect x="579.0" y="707.5" width="3" height="2" fill="#333"/>
<rect x="548.0" y="704.4" width="2" height="3" fill="#222"/>
<rect x="554.1" y="718.6" width="1" height="1" fill="#4a4a4a"/>
<rect x="586.6" y="698.4" width="1" height="1" fill="#222"/>
<rect x="611.5" y="699.3" width="3" height="2" fill="#888"/>
<rect x="518.5" y="706.8" width="2" height="1" fill="#4a4a4a"/>
<rect x="601.4" y="712.7" width="1" height="1" fill="#333"/>
<rect x="540.1" y="699.7" width="2" height="1" fill="#888"/>
<rect x="545.2" y="703.0" width="1" height="1" fill="#222"/>
<rect x="586.2" y="710.3" width="1" height="2" fill="#4a4a4a"/>
<rect x="604.7" y="700.8" width="2" height="3" fill="#222"/>
<rect x="520.4" y="700.9" width="2" height="2" fill="#333"/>
<rect x="596.9" y="700.6" width="2" height="1" fill="#333"/>
<rect x="555.8" y="707.9" width="1" height="2" fill="#666"/>
<rect x="508.7" y="721.5" width="2" height="2" fill="#666"/>
<rect x="558.3" y="701.4" width="2" height="2" fill="#aaa"/>
<rect x="525.8" y="704.0" width="2" height="2" fill="#222"/>
<rect x="611.2" y="695.2" width="2" height="2" fill="#4a4a4a"/>
<rect x="607.8" y="693.9" width="2" height="2" fill="#222"/>
<rect x="617.5" y="692.5" width="2" height="1" fill="#333"/>
<rect x="562.3" y="706.6" width="2" height="1" fill="#333"/>
<rect x="523.9" y="706.4" width="2" height="3" fill="#222"/>
<rect x="534.7" y="698.0" width="1" height="2" fill="#666"/>
<rect x="592.9" y="715.5" width="2" height="2" fill="#666"/>
<rect x="511.4" y="694.9" width="1" height="1" fill="#aaa"/>
<rect x="534.3" y="698.8" width="2" height="2" fill="#666"/>
<rect x="538.3" y="692.3" width="2" height="1" fill="#4a4a4a"/>
<rect x="601.2" y="722.2" width="2" height="1" fill="#aaa"/>
<rect x="543.0" y="701.3" width="1" height="1" fill="#1a1a1a"/>
<rect x="503.8" y="722.0" width="1" height="1" fill="#222"/>
<rect x="604.9" y="700.8" width="1" height="2" fill="#666"/>
<rect x="600.1" y="704.1" width="1" height="2" fill="#888"/>
<rect x="545.8" y="711.6" width="1" height="1" fill="#333"/>
<rect x="563.3" y="706.7" width="2" height="1" fill="#1a1a1a"/>
<rect x="516.3" y="715.6" width="3" height="2" fill="#aaa"/>
<rect x="585.9" y="704.6" width="1" height="1" fill="#333"/>
<rect x="605.0" y="723.5" width="1" height="1" fill="#4a4a4a"/>
<rect x="562.6" y="709.5" width="2" height="1" fill="#222"/>
<rect x="504.4" y="723.9" width="2" height="2" fill="#666"/>
<rect x="523.5" y="695.4" width="2" height="2" fill="#666"/>
<rect x="598.4" y="693.0" width="2" height="1" fill="#888"/>
<rect x="589.2" y="700.6" width="1" height="1" fill="#666"/>
<rect x="530.1" y="706.7" width="3" height="2" fill="#aaa"/>
<rect x="513.1" y="697.9" width="2" height="2" fill="#1a1a1a"/>
<rect x="556.9" y="711.3" width="2" height="2" fill="#1a1a1a"/>
<rect x="516.4" y="705.4" width="1" height="2" fill="#666"/>
<rect x="571.8" y="720.4" width="1" height="2" fill="#888"/>
<rect x="569.6" y="716.6" width="1" height="2" fill="#aaa"/>
<rect x="504.2" y="713.0" width="2" height="3" fill="#666"/>
<rect x="601.1" y="709.3" width="2" height="3" fill="#1a1a1a"/>
<rect x="593.7" y="703.2" width="2" height="2" fill="#aaa"/>
<rect x="541.5" y="706.4" width="3" height="2" fill="#aaa"/>
<rect x="549.3" y="710.5" width="3" height="2" fill="#666"/>
<rect x="519.3" y="714.4" width="3" height="2" fill="#222"/>
<rect x="604.7" y="713.9" width="1" height="1" fill="#333"/>
<rect x="514.9" y="698.2" width="3" height="2" fill="#4a4a4a"/>
<rect x="525.7" y="714.1" width="2" height="2" fill="#222"/>
<rect x="551.6" y="705.1" width="1" height="1" fill="#888"/>
<rect x="507.5" y="724.3" width="1" height="1" fill="#1a1a1a"/>
<rect x="604.1" y="712.5" width="2" height="2" fill="#888"/>
<rect x="566.0" y="722.5" width="2" height="1" fill="#333"/>
<rect x="516.4" y="692.5" width="2" height="2" fill="#1a1a1a"/>
<rect x="535.9" y="702.1" width="1" height="2" fill="#1a1a1a"/>
<rect x="509.1" y="723.6" width="2" height="1" fill="#333"/>
<rect x="512.0" y="711.5" width="1" height="2" fill="#4a4a4a"/>
<rect x="516.6" y="696.3" width="2" height="2" fill="#4a4a4a"/>
<rect x="570.1" y="701.0" width="2" height="1" fill="#888"/>
<rect x="566.5" y="719.7" width="2" height="2" fill="#888"/>
<rect x="547.6" y="710.1" width="3" height="2" fill="#4a4a4a"/>
<rect x="607.2" y="702.0" width="1" height="1" fill="#4a4a4a"/>
<rect x="598.6" y="693.0" width="3" height="2" fill="#222"/>
<rect x="524.3" y="710.0" width="2" height="3" fill="#1a1a1a"/>
<rect x="611.1" y="697.4" width="2" height="2" fill="#333"/>
<rect x="567.7" y="708.2" width="2" height="2" fill="#222"/>
<rect x="536.9" y="717.5" width="1" height="2" fill="#666"/>
<rect x="509.9" y="720.8" width="1" height="1" fill="#888"/>
<rect x="509.3" y="704.8" width="1" height="1" fill="#333"/>
<rect x="588.8" y="695.6" width="2" height="2" fill="#888"/>
<rect x="589.2" y="697.1" width="3" height="2" fill="#888"/>
<rect x="543.6" y="714.3" width="2" height="2" fill="#aaa"/>
<rect x="601.0" y="695.1" width="1" height="1" fill="#333"/>
<rect x="594.6" y="715.4" width="1" height="2" fill="#4a4a4a"/>
<rect x="604.8" y="692.1" width="2" height="1" fill="#666"/>
<rect x="515.9" y="705.1" width="1" height="2" fill="#4a4a4a"/>
<rect x="602.3" y="701.2" width="2" height="1" fill="#4a4a4a"/>
<rect x="602.5" y="714.9" width="2" height="2" fill="#888"/>
<rect x="543.6" y="703.6" width="2" height="1" fill="#666"/>
<rect x="572.3" y="713.4" width="1" height="1" fill="#aaa"/>
<rect x="590.0" y="724.7" width="2" height="3" fill="#4a4a4a"/>
<rect x="537.4" y="709.7" width="1" height="2" fill="#4a4a4a"/>
<rect x="569.9" y="711.2" width="2" height="1" fill="#aaa"/>
<rect x="610.6" y="702.7" width="2" height="2" fill="#333"/>
<rect x="526.1" y="706.1" width="1" height="1" fill="#1a1a1a"/>
<rect x="507.6" y="710.6" width="1" height="1" fill="#333"/>
<rect x="610.6" y="717.5" width="2" height="1" fill="#666"/>
<rect x="619.8" y="709.1" width="2" height="1" fill="#888"/>
<rect x="582.9" y="704.9" width="3" height="2" fill="#1a1a1a"/>
<rect x="572.2" y="703.6" width="1" height="1" fill="#888"/>
<rect x="510.1" y="699.6" width="2" height="3" fill="#333"/>
<rect x="561.1" y="713.4" width="1" height="2" fill="#222"/>
<rect x="615.8" y="708.1" width="1" height="1" fill="#aaa"/>
<rect x="575.7" y="724.9" width="3" height="2" fill="#888"/>
<rect x="564.6" y="718.9" width="1" height="2" fill="#333"/>
<rect x="539.5" y="724.3" width="2" height="2" fill="#666"/>
<rect x="522.7" y="713.6" width="2" height="2" fill="#888"/>
<rect x="542.5" y="722.9" width="2" height="1" fill="#4a4a4a"/>
<rect x="576.5" y="709.3" width="2" height="1" fill="#222"/>
<rect x="561.6" y="698.2" width="1" height="2" fill="#1a1a1a"/>
<rect x="576.4" y="711.9" width="3" height="2" fill="#666"/>
<rect x="619.3" y="713.0" width="1" height="1" fill="#888"/>
<rect x="550.5" y="718.0" width="2" height="2" fill="#888"/>
<rect x="583.5" y="692.1" width="2" height="2" fill="#4a4a4a"/>
<rect x="601.4" y="711.3" width="1" height="1" fill="#222"/>
<rect x="522.7" y="717.4" width="2" height="2" fill="#aaa"/>
<rect x="578.3" y="709.5" width="1" height="2" fill="#666"/>
<rect x="525.4" y="711.9" width="1" height="2" fill="#222"/>
<rect x="563.2" y="708.8" width="1" height="1" fill="#1a1a1a"/>
<rect x="511.0" y="723.3" width="1" height="1" fill="#aaa"/>
<rect x="557.2" y="706.2" width="1" height="1" fill="#888"/>
<rect x="503.5" y="717.4" width="3" height="2" fill="#222"/>
<rect x="586.4" y="703.7" width="1" height="2" fill="#1a1a1a"/>
<rect x="533.5" y="695.3" width="2" height="1" fill="#333"/>
<rect x="524.6" y="712.6" width="1" height="1" fill="#1a1a1a"/>
<rect x="528.0" y="705.1" width="1" height="1" fill="#4a4a4a"/>
<rect x="508.4" y="699.9" width="2" height="2" fill="#1a1a1a"/>
<rect x="520.8" y="711.4" width="1" height="2" fill="#333"/>
<rect x="502.7" y="720.6" width="1" height="1" fill="#333"/>
<rect x="551.4" y="700.3" width="1" height="1" fill="#1a1a1a"/>
<rect x="530.7" y="704.9" width="2" height="2" fill="#4a4a4a"/>
<rect x="538.5" y="720.9" width="1" height="1" fill="#1a1a1a"/>
<rect x="595.5" y="700.0" width="1" height="2" fill="#222"/>
<rect x="544.3" y="698.2" width="2" height="2" fill="#4a4a4a"/>
<rect x="568.3" y="695.8" width="2" height="1" fill="#aaa"/>
<rect x="547.5" y="705.3" width="2" height="1" fill="#1a1a1a"/>
<rect x="551.8" y="722.1" width="2" height="1" fill="#222"/>
<rect x="547.7" y="707.4" width="3" height="2" fill="#222"/>
<rect x="553.4" y="701.2" width="1" height="1" fill="#333"/>
<rect x="597.0" y="700.0" width="1" height="2" fill="#1a1a1a"/>
<rect x="525.2" y="710.0" width="1" height="2" fill="#666"/>
<rect x="554.3" y="719.6" width="2" height="2" fill="#222"/>
<rect x="545.4" y="699.1" width="2" height="3" fill="#4a4a4a"/>
<rect x="576.3" y="711.2" width="2" height="2" fill="#4a4a4a"/>
<rect x="561.6" y="699.5" width="1" height="1" fill="#888"/>
<rect x="517.5" y="715.3" width="2" height="2" fill="#666"/>
<rect x="608.2" y="711.4" width="3" height="2" fill="#666"/>
<rect x="531.1" y="712.1" width="2" height="2" fill="#222"/>
<rect x="604.9" y="696.1" width="2" height="1" fill="#1a1a1a"/>
<rect x="566.0" y="700.9" width="2" height="3" fill="#1a1a1a"/>
<rect x="579.6" y="710.7" width="2" height="2" fill="#1a1a1a"/>
<rect x="548.0" y="694.8" width="1" height="2" fill="#aaa"/>
<rect x="602.4" y="702.6" width="2" height="1" fill="#1a1a1a"/>
<rect x="568.3" y="703.9" width="2" height="1" fill="#aaa"/>
<rect x="537.0" y="694.2" width="2" height="2" fill="#1a1a1a"/>
<rect x="528.7" y="696.2" width="2" height="3" fill="#333"/>
<rect x="544.0" y="719.9" width="1" height="1" fill="#aaa"/>
<rect x="576.1" y="712.7" width="1" height="2" fill="#333"/>
<rect x="522.8" y="704.1" width="3" height="2" fill="#4a4a4a"/>
<rect x="505.0" y="715.2" width="1" height="1" fill="#222"/>
<rect x="620.0" y="705.2" width="2" height="1" fill="#222"/>
<rect x="536.4" y="700.9" width="2" height="2" fill="#888"/>
<rect x="581.9" y="705.4" width="1" height="2" fill="#4a4a4a"/>
<rect x="525.4" y="702.0" width="2" height="3" fill="#888"/>
<rect x="506.6" y="702.3" width="1" height="2" fill="#666"/>
<rect x="601.1" y="710.8" width="2" height="1" fill="#333"/>
<rect x="611.2" y="714.1" width="3" height="2" fill="#1a1a1a"/>
<rect x="515.2" y="717.2" width="2" height="2" fill="#1a1a1a"/>
<rect x="605.3" y="711.3" width="1" height="1" fill="#222"/>
<rect x="582.4" y="693.2" width="3" height="2" fill="#222"/>
<rect x="593.7" y="703.4" width="2" height="1" fill="#4a4a4a"/>
<rect x="584.0" y="705.0" width="2" height="2" fill="#333"/>
<rect x="564.2" y="703.5" width="2" height="3" fill="#4a4a4a"/>
<rect x="611.8" y="714.8" width="1" height="1" fill="#666"/>
<rect x="508.4" y="715.0" width="2" height="3" fill="#888"/>
<rect x="562.4" y="722.6" width="1" height="2" fill="#4a4a4a"/>
<rect x="591.9" y="693.4" width="2" height="1" fill="#333"/>
<rect x="522.6" y="697.4" width="2" height="2" fill="#666"/>
<rect x="532.7" y="723.8" width="1" height="2" fill="#333"/>
<rect x="543.0" y="695.1" width="2" height="2" fill="#222"/>
<rect x="518.1" y="715.3" width="1" height="1" fill="#222"/>
<rect x="585.3" y="692.2" width="1" height="1" fill="#222"/>
<rect x="612.4" y="703.6" width="2" height="2" fill="#222"/>
<rect x="606.4" y="696.7" width="2" height="2" fill="#333"/>
<rect x="576.3" y="695.9" width="2" height="3" fill="#aaa"/>
<rect x="613.1" y="714.3" width="1" height="2" fill="#666"/>
<rect x="617.6" y="719.7" width="2" height="3" fill="#aaa"/>
<rect x="526.3" y="714.8" width="1" height="1" fill="#333"/>
<rect x="559.4" y="693.4" width="2" height="2" fill="#333"/>
<rect x="525.3" y="715.2" width="1" height="1" fill="#1a1a1a"/>
<rect x="521.0" y="706.7" width="3" height="2" fill="#333"/>
<rect x="521.8" y="694.4" width="1" height="1" fill="#4a4a4a"/>
<rect x="619.1" y="716.8" width="2" height="1" fill="#888"/>
<rect x="586.6" y="724.3" width="2" height="2" fill="#1a1a1a"/>
<rect x="578.1" y="723.6" width="1" height="1" fill="#222"/>
<rect x="594.5" y="702.6" width="3" height="2" fill="#1a1a1a"/>
<rect x="578.1" y="712.7" width="2" height="2" fill="#888"/>
<rect x="531.0" y="696.6" width="1" height="1" fill="#1a1a1a"/>
<rect x="593.4" y="719.7" width="2" height="2" fill="#333"/>
<rect x="523.9" y="713.1" width="1" height="2" fill="#1a1a1a"/>
<rect x="594.6" y="719.4" width="3" height="2" fill="#4a4a4a"/>
<rect x="523.8" y="719.2" width="3" height="2" fill="#222"/>
<rect x="545.5" y="710.2" width="3" height="2" fill="#aaa"/>
<rect x="600.1" y="699.9" width="1" height="1" fill="#1a1a1a"/>
<rect x="568.9" y="712.7" width="2" height="3" fill="#1a1a1a"/>
<rect x="613.5" y="708.3" width="1" height="1" fill="#888"/>
<rect x="520.6" y="701.9" width="2" height="1" fill="#222"/>
<rect x="583.2" y="697.4" width="1" height="1" fill="#888"/>
<rect x="616.4" y="695.0" width="1" height="1" fill="#aaa"/>
<rect x="553.9" y="698.3" width="3" height="2" fill="#1a1a1a"/>
<rect x="505.8" y="712.2" width="2" height="1" fill="#4a4a4a"/>
<rect x="518.9" y="694.4" width="1" height="1" fill="#666"/>
<rect x="585.9" y="721.4" width="2" height="1" fill="#4a4a4a"/>
<rect x="503.0" y="723.5" width="1" height="2" fill="#888"/>
<rect x="521.4" y="701.8" width="1" height="1" fill="#aaa"/>
<rect x="568.5" y="703.5" width="2" height="2" fill="#4a4a4a"/>
<rect x="512.0" y="702.7" width="1" height="1" fill="#4a4a4a"/>
<rect x="616.6" y="722.0" width="1" height="2" fill="#4a4a4a"/>
<rect x="615.5" y="712.5" width="1" height="1" fill="#888"/>
<rect x="581.8" y="712.1" width="2" height="2" fill="#666"/>
<rect x="569.4" y="723.4" width="1" height="1" fill="#888"/>
<rect x="578.4" y="701.9" width="3" height="2" fill="#666"/>
<rect x="606.4" y="692.9" width="2" height="2" fill="#222"/>
<rect x="582.1" y="706.8" width="2" height="1" fill="#222"/>
<rect x="579.9" y="704.3" width="2" height="3" fill="#333"/>
<rect x="564.5" y="710.6" width="2" height="3" fill="#333"/>
<rect x="515.5" y="698.0" width="2" height="2" fill="#666"/>
<rect x="590.5" y="699.3" width="2" height="2" fill="#888"/>
<rect x="513.2" y="709.5" width="2" height="2" fill="#888"/>
<rect x="559.7" y="710.3" width="2" height="2" fill="#666"/>
<rect x="569.6" y="695.7" width="2" height="1" fill="#666"/>
<rect x="568.9" y="720.1" width="2" height="1" fill="#aaa"/>
<rect x="553.9" y="720.5" width="2" height="1" fill="#666"/>
<rect x="586.3" y="717.0" width="2" height="1" fill="#888"/>
<rect x="618.9" y="715.8" width="2" height="1" fill="#4a4a4a"/>
<rect x="600.0" y="704.9" width="1" height="2" fill="#222"/>
<rect x="568.4" y="717.6" width="1" height="2" fill="#333"/>
<rect x="593.6" y="693.9" width="2" height="2" fill="#1a1a1a"/>
<rect x="545.9" y="692.5" width="2" height="2" fill="#4a4a4a"/>
<rect x="537.4" y="715.3" width="2" height="3" fill="#1a1a1a"/>
<rect x="575.3" y="720.8" width="2" height="1" fill="#888"/>
<rect x="604.8" y="697.5" width="3" height="2" fill="#aaa"/>
<rect x="592.1" y="714.5" width="2" height="2" fill="#1a1a1a"/>
<rect x="530.2" y="708.9" width="2" height="1" fill="#333"/>
<rect x="587.2" y="693.4" width="3" height="2" fill="#1a1a1a"/>
<rect x="544.0" y="702.8" width="2" height="1" fill="#1a1a1a"/>
<rect x="611.2" y="714.3" width="2" height="2" fill="#333"/>
<rect x="524.8" y="706.7" width="1" height="1" fill="#1a1a1a"/>
<rect x="595.4" y="708.1" width="2" height="1" fill="#aaa"/>
<rect x="532.5" y="697.0" width="2" height="2" fill="#aaa"/>
<rect x="583.1" y="704.6" width="1" height="2" fill="#666"/>
<rect x="605.3" y="709.8" width="2" height="2" fill="#4a4a4a"/>
<rect x="503.6" y="703.3" width="1" height="2" fill="#4a4a4a"/>
<rect x="561.2" y="720.8" width="1" height="1" fill="#1a1a1a"/>
<rect x="523.5" y="719.0" width="2" height="3" fill="#aaa"/>
<rect x="558.1" y="697.2" width="1" height="1" fill="#4a4a4a"/>
<rect x="529.0" y="723.6" width="2" height="1" fill="#1a1a1a"/>
<rect x="544.6" y="709.4" width="2" height="2" fill="#222"/>
<rect x="571.5" y="693.4" width="1" height="2" fill="#aaa"/>
<rect x="544.6" y="707.4" width="1" height="1" fill="#4a4a4a"/>
<rect x="612.6" y="702.4" width="3" height="2" fill="#666"/>
<rect x="559.0" y="699.5" width="2" height="2" fill="#4a4a4a"/>
<rect x="605.4" y="712.1" width="1" height="2" fill="#888"/>
<rect x="581.2" y="701.0" width="2" height="2" fill="#1a1a1a"/>
<rect x="561.0" y="700.6" width="2" height="1" fill="#666"/>
<rect x="614.9" y="724.7" width="1" height="1" fill="#666"/>
<rect x="608.5" y="695.1" width="2" height="2" fill="#aaa"/>
<rect x="552.3" y="710.9" width="2" height="1" fill="#333"/>
<rect x="595.4" y="718.2" width="2" height="2" fill="#aaa"/>
<rect x="596.0" y="696.7" width="2" height="1" fill="#333"/>
<rect x="615.6" y="703.3" width="3" height="2" fill="#666"/>
<rect x="602.7" y="700.1" width="2" height="1" fill="#888"/>
<rect x="549.9" y="694.0" width="3" height="2" fill="#888"/>
<rect x="540.1" y="724.6" width="1" height="1" fill="#666"/>
<rect x="545.3" y="700.0" width="2" height="2" fill="#333"/>
<rect x="519.8" y="698.8" width="1" height="1" fill="#4a4a4a"/>
<rect x="554.6" y="710.8" width="2" height="2" fill="#222"/>
<rect x="571.2" y="696.7" width="2" height="2" fill="#333"/>
<rect x="587.7" y="710.2" width="3" height="2" fill="#1a1a1a"/>
<rect x="610.7" y="711.3" width="2" height="1" fill="#666"/>
<rect x="523.1" y="711.2" width="1" height="1" fill="#333"/>
<rect x="616.5" y="714.8" width="2" height="1" fill="#aaa"/>
<rect x="559.2" y="721.7" width="2" height="2" fill="#333"/>
<rect x="566.5" y="717.0" width="2" height="2" fill="#222"/>
<rect x="585.1" y="699.2" width="2" height="3" fill="#4a4a4a"/>
<rect x="525.6" y="711.9" width="2" height="1" fill="#888"/>
<rect x="513.7" y="700.0" width="1" height="1" fill="#222"/>
<rect x="572.9" y="694.6" width="3" height="2" fill="#888"/>
<rect x="518.1" y="698.2" width="2" height="1" fill="#888"/>
<rect x="605.3" y="713.1" width="1" height="1" fill="#222"/>
<rect x="539.9" y="720.6" width="1" height="1" fill="#888"/>
<rect x="559.4" y="712.1" width="3" height="2" fill="#222"/>
<rect x="508.8" y="705.7" width="1" height="1" fill="#1a1a1a"/>
<rect x="575.9" y="703.0" width="1" height="1" fill="#666"/>
<rect x="549.1" y="723.0" width="1" height="1" fill="#1a1a1a"/>
<rect x="611.2" y="710.6" width="3" height="2" fill="#1a1a1a"/>
<rect x="551.0" y="715.4" width="3" height="2" fill="#222"/>
<rect x="513.0" y="697.2" width="1" height="2" fill="#666"/>
<rect x="592.5" y="695.0" width="3" height="2" fill="#4a4a4a"/>
<rect x="542.6" y="714.4" width="2" height="1" fill="#222"/>
<rect x="579.6" y="711.9" width="3" height="2" fill="#222"/>
<rect x="589.4" y="700.5" width="1" height="1" fill="#aaa"/>
<rect x="505.7" y="713.4" width="2" height="1" fill="#888"/>
<rect x="555.5" y="701.2" width="2" height="1" fill="#666"/>
<rect x="613.0" y="696.4" width="1" height="1" fill="#666"/>
<rect x="558.1" y="713.6" width="3" height="2" fill="#222"/>
<rect x="618.8" y="699.5" width="2" height="1" fill="#1a1a1a"/>
<rect x="575.7" y="696.0" width="2" height="1" fill="#666"/>
<rect x="526.2" y="717.7" width="2" height="2" fill="#666"/>
<rect x="545.1" y="696.9" width="1" height="2" fill="#aaa"/>
<rect x="589.1" y="722.4" width="1" height="2" fill="#666"/>
<rect x="505.4" y="717.7" width="2" height="2" fill="#4a4a4a"/>
<rect x="617.9" y="708.5" width="3" height="2" fill="#aaa"/>
<rect x="547.9" y="699.0" width="1" height="1" fill="#1a1a1a"/>
<rect x="579.9" y="692.5" width="2" height="3" fill="#888"/>
<rect x="604.0" y="694.0" width="2" height="3" fill="#4a4a4a"/>
<rect x="609.0" y="704.4" width="2" height="2" fill="#1a1a1a"/>
<rect x="531.7" y="700.7" width="2" height="3" fill="#222"/>
<rect x="529.3" y="698.7" width="2" height="3" fill="#888"/>
<rect x="534.9" y="721.0" width="1" height="1" fill="#222"/>
<rect x="617.8" y="718.1" width="1" height="1" fill="#aaa"/>
<rect x="612.2" y="717.4" width="1" height="2" fill="#aaa"/>
<rect x="537.4" y="694.9" width="1" height="1" fill="#4a4a4a"/>
<rect x="604.9" y="700.2" width="3" height="2" fill="#888"/>
<rect x="574.0" y="723.6" width="2" height="2" fill="#666"/>
<rect x="508.2" y="717.8" width="3" height="2" fill="#1a1a1a"/>
<rect x="594.0" y="720.5" width="1" height="2" fill="#4a4a4a"/>
<rect x="603.9" y="724.8" width="2" height="2" fill="#888"/>
<rect x="504.9" y="695.7" width="1" height="1" fill="#222"/>
<rect x="609.6" y="697.0" width="3" height="2" fill="#1a1a1a"/>
<rect x="590.7" y="707.3" width="2" height="3" fill="#1a1a1a"/>
<rect x="550.9" y="713.2" width="2" height="3" fill="#333"/>
<rect x="617.6" y="693.1" width="2" height="2" fill="#222"/>
<rect x="595.5" y="714.8" width="1" height="1" fill="#222"/>
<rect x="561.6" y="699.6" width="2" height="3" fill="#888"/>
<rect x="514.4" y="692.7" width="3" height="2" fill="#1a1a1a"/>
<rect x="605.7" y="696.0" width="1" height="1" fill="#222"/>
<rect x="564.0" y="692.1" width="2" height="2" fill="#888"/>
<rect x="565.8" y="712.9" width="2" height="1" fill="#666"/>
<rect x="619.2" y="709.5" width="1" height="1" fill="#1a1a1a"/>
<rect x="543.2" y="699.1" width="2" height="2" fill="#888"/>
<rect x="510.5" y="715.2" width="1" height="1" fill="#333"/>
<rect x="533.7" y="723.9" width="2" height="2" fill="#666"/>
<rect x="507.6" y="718.1" width="3" height="2" fill="#333"/>
<rect x="503.2" y="714.7" width="1" height="1" fill="#666"/>
<rect x="535.3" y="702.9" width="2" height="3" fill="#aaa"/>
<rect x="589.9" y="700.9" width="2" height="3" fill="#333"/>
<rect x="565.7" y="704.6" width="1" height="2" fill="#4a4a4a"/>
<rect x="591.8" y="721.1" width="1" height="2" fill="#888"/>
<rect x="502.6" y="712.1" width="2" height="2" fill="#888"/>
<rect x="574.1" y="704.4" width="2" height="2" fill="#aaa"/>
<rect x="525.4" y="695.8" width="1" height="1" fill="#888"/>
<rect x="507.8" y="714.9" width="3" height="2" fill="#888"/>
<rect x="578.3" y="710.1" width="3" height="2" fill="#4a4a4a"/>
<rect x="616.7" y="692.0" width="1" height="1" fill="#666"/>
<rect x="542.4" y="710.0" width="2" height="3" fill="#222"/>
<rect x="599.3" y="718.1" width="2" height="3" fill="#333"/>
<rect x="586.0" y="705.0" width="2" height="1" fill="#333"/>
<rect x="574.3" y="714.3" width="3" height="2" fill="#1a1a1a"/>
<rect x="576.2" y="709.9" width="2" height="2" fill="#666"/>
<rect x="592.3" y="700.7" width="1" height="1" fill="#aaa"/>
<rect x="587.1" y="709.2" width="1" height="1" fill="#666"/>
<rect x="528.1" y="696.7" width="2" height="1" fill="#333"/>
<rect x="563.8" y="709.4" width="3" height="2" fill="#222"/>
<rect x="581.5" y="697.0" width="1" height="1" fill="#222"/>
<rect x="577.6" y="719.3" width="1" height="1" fill="#333"/>
<rect x="547.0" y="719.5" width="2" height="3" fill="#1a1a1a"/>
<rect x="550.4" y="715.2" width="2" height="3" fill="#1a1a1a"/>
<rect x="545.0" y="713.9" width="2" height="1" fill="#666"/>
<rect x="537.7" y="713.9" width="2" height="2" fill="#4a4a4a"/>
<rect x="536.3" y="706.7" width="2" height="1" fill="#4a4a4a"/>
<rect x="576.9" y="716.1" width="1" height="2" fill="#aaa"/>
<rect x="563.0" y="692.2" width="1" height="2" fill="#333"/>
<rect x="559.7" y="713.8" width="3" height="2" fill="#666"/>
<rect x="542.1" y="704.6" width="1" height="1" fill="#666"/>
<rect x="525.7" y="710.8" width="1" height="1" fill="#666"/>
<rect x="523.1" y="715.7" width="2" height="2" fill="#333"/>
<rect x="532.2" y="700.8" width="1" height="1" fill="#1a1a1a"/>
<rect x="564.0" y="708.3" width="2" height="1" fill="#222"/>
<rect x="517.1" y="723.6" width="2" height="2" fill="#666"/>
<rect x="594.2" y="722.4" width="1" height="1" fill="#4a4a4a"/>
<rect x="545.3" y="715.5" width="2" height="2" fill="#4a4a4a"/>
<rect x="552.9" y="712.0" width="2" height="2" fill="#333"/>
<rect x="530.2" y="720.0" width="1" height="2" fill="#666"/>
<rect x="524.6" y="724.1" width="3" height="2" fill="#1a1a1a"/>
<rect x="580.5" y="702.9" width="2" height="1" fill="#1a1a1a"/>
<rect x="591.2" y="704.5" width="2" height="1" fill="#4a4a4a"/>
<rect x="560.6" y="721.7" width="1" height="1" fill="#1a1a1a"/>
<rect x="571.9" y="707.3" width="1" height="1" fill="#888"/>
<rect x="601.1" y="705.7" width="1" height="1" fill="#222"/>
<rect x="607.1" y="706.5" width="1" height="1" fill="#222"/>
<rect x="562.4" y="719.2" width="2" height="2" fill="#888"/>
<rect x="525.6" y="709.9" width="2" height="2" fill="#666"/>
<rect x="541.0" y="704.8" width="1" height="1" fill="#1a1a1a"/>
<rect x="512.6" y="720.0" width="1" height="1" fill="#1a1a1a"/>
<rect x="560.6" y="720.0" width="2" height="2" fill="#666"/>
<rect x="555.6" y="719.2" width="2" height="2" fill="#888"/>
<rect x="541.6" y="720.5" width="2" height="1" fill="#888"/>
<rect x="590.3" y="719.8" width="1" height="2" fill="#4a4a4a"/>
<rect x="598.4" y="720.8" width="1" height="2" fill="#333"/>
<rect x="541.5" y="709.1" width="1" height="1" fill="#222"/>
<rect x="618.7" y="701.1" width="2" height="2" fill="#1a1a1a"/>
<rect x="538.9" y="700.4" width="2" height="2" fill="#666"/>
<rect x="548.6" y="721.2" width="1" height="1" fill="#333"/>
<rect x="537.9" y="720.6" width="2" height="3" fill="#aaa"/>
<rect x="565.7" y="702.1" width="1" height="2" fill="#1a1a1a"/>
<rect x="526.5" y="713.5" width="1" height="1" fill="#888"/>
<rect x="559.7" y="711.3" width="3" height="2" fill="#aaa"/>
<rect x="542.3" y="707.1" width="2" height="1" fill="#888"/>
<rect x="508.0" y="702.4" width="2" height="1" fill="#1a1a1a"/>
<rect x="550.3" y="710.6" width="3" height="2" fill="#1a1a1a"/>
<rect x="534.3" y="718.3" width="2" height="2" fill="#222"/>
<rect x="585.8" y="718.5" width="1" height="1" fill="#4a4a4a"/>
<rect x="612.3" y="706.7" width="2" height="2" fill="#1a1a1a"/>
<rect x="523.3" y="720.3" width="2" height="1" fill="#1a1a1a"/>
<rect x="518.2" y="721.0" width="1" height="1" fill="#222"/>
<rect x="503.7" y="715.8" width="1" height="2" fill="#4a4a4a"/>
<rect x="528.1" y="715.8" width="2" height="2" fill="#aaa"/>
<rect x="526.9" y="719.7" width="1" height="2" fill="#aaa"/>
<rect x="610.3" y="698.8" width="2" height="1" fill="#4a4a4a"/>
<rect x="513.2" y="717.9" width="1" height="1" fill="#4a4a4a"/>
<rect x="528.4" y="719.5" width="1" height="1" fill="#888"/>
<rect x="552.1" y="720.6" width="1" height="2" fill="#1a1a1a"/>
<rect x="520.9" y="706.7" width="2" height="2" fill="#aaa"/>
<rect x="570.7" y="702.5" width="2" height="1" fill="#888"/>
<rect x="520.2" y="722.1" width="3" height="2" fill="#666"/>
<rect x="601.3" y="697.0" width="2" height="2" fill="#4a4a4a"/>
<rect x="617.0" y="702.8" width="1" height="2" fill="#888"/>
<rect x="536.3" y="713.6" width="2" height="1" fill="#222"/>
<rect x="556.8" y="716.0" width="2" height="3" fill="#333"/>
<rect x="582.1" y="695.8" width="3" height="2" fill="#1a1a1a"/>
<rect x="579.6" y="698.9" width="2" height="1" fill="#666"/>
<rect x="510.6" y="708.2" width="1" height="1" fill="#aaa"/>
<rect x="594.2" y="721.3" width="2" height="1" fill="#222"/>
<rect x="559.2" y="720.5" width="2" height="1" fill="#aaa"/>
<rect x="512.4" y="696.6" width="2" height="2" fill="#aaa"/>
<rect x="607.4" y="719.9" width="2" height="2" fill="#666"/>
<rect x="611.1" y="693.1" width="2" height="1" fill="#1a1a1a"/>
<rect x="542.6" y="723.2" width="2" height="2" fill="#1a1a1a"/>
<rect x="522.3" y="703.6" width="1" height="1" fill="#222"/>
<rect x="540.9" y="704.0" width="2" height="1" fill="#aaa"/>
<rect x="600.2" y="718.7" width="2" height="1" fill="#4a4a4a"/>
<rect x="513.3" y="710.2" width="1" height="2" fill="#666"/>
<rect x="548.4" y="693.2" width="1" height="1" fill="#666"/>
<rect x="570.4" y="705.6" width="1" height="2" fill="#4a4a4a"/>
<rect x="570.2" y="703.6" width="3" height="2" fill="#888"/>
<rect x="580.3" y="697.4" width="1" height="2" fill="#888"/>
<rect x="613.1" y="702.9" width="1" height="1" fill="#333"/>
<rect x="519.6" y="695.1" width="2" height="2" fill="#1a1a1a"/>
<rect x="520.1" y="700.9" width="2" height="1" fill="#1a1a1a"/>
<rect x="540.3" y="700.1" width="2" height="1" fill="#1a1a1a"/>
<rect x="561.8" y="704.1" width="2" height="2" fill="#333"/>
<rect x="549.6" y="698.7" width="1" height="2" fill="#222"/>
<rect x="587.7" y="709.6" width="2" height="2" fill="#1a1a1a"/>
<rect x="503.8" y="723.1" width="1" height="1" fill="#aaa"/>
<rect x="595.3" y="710.8" width="2" height="2" fill="#1a1a1a"/>
<rect x="590.5" y="697.1" width="2" height="2" fill="#1a1a1a"/>
<rect x="552.0" y="712.6" width="2" height="1" fill="#333"/>
<rect x="569.2" y="696.0" width="2" height="2" fill="#222"/>
<rect x="530.7" y="717.6" width="2" height="1" fill="#888"/>
<rect x="598.7" y="719.1" width="2" height="1" fill="#666"/>
<rect x="541.8" y="695.2" width="2" height="2" fill="#666"/>
</g>
<path d="M329.3 691.4C326 697 329 706 331 712C333 718 334 722 335.7 724.8" fill="none" stroke="#444" stroke-width="1.2" />
<path d="M615 691.4C609.5 697 608.5 705 612 712C615 718 618 721 617.5 724.4" fill="none" stroke="#444" stroke-width="1.2" />
<line x1="170" y1="724.5" x2="330" y2="724.5" stroke="#707070" stroke-width="2" stroke-linecap="butt"/>
<line x1="330" y1="724.4" x2="618" y2="724.4" stroke="#3a3a3a" stroke-width="2.4" stroke-linecap="butt"/>
<line x1="441.8" y1="691" x2="441.8" y2="724.4" stroke="#333" stroke-width="3.2" stroke-linecap="butt"/>
<line x1="503.2" y1="691" x2="503.2" y2="724.4" stroke="#333" stroke-width="3" stroke-linecap="butt"/>
<line x1="431.5" y1="691" x2="513.6" y2="691" stroke="#3a3a3a" stroke-width="2.6" stroke-linecap="butt"/>
<path d="M420.2 725.5V733.6H523.5L524.5 725.5" fill="none" stroke="#8a8a8a" stroke-width="1.1" />
<line x1="433.2" y1="733.6" x2="433.2" y2="757.3" stroke="#444" stroke-width="1.5" stroke-linecap="butt"/>
<line x1="440.6" y1="727" x2="440.6" y2="766" stroke="#8a8a8a" stroke-width="1.6" stroke-linecap="butt"/>
<line x1="504.6" y1="726" x2="504.6" y2="766" stroke="#444" stroke-width="1.5" stroke-linecap="butt"/>
<line x1="511.8" y1="733.6" x2="511.8" y2="757.3" stroke="#8a8a8a" stroke-width="1.6" stroke-linecap="butt"/>
<path d="M433.2 733 L455.5 742.9 V733.6" fill="none" stroke="#444" stroke-width="1.1" />
<path d="M523.3 733 L511.8 742.9" fill="none" stroke="#444" stroke-width="1.1" />
<line x1="417" y1="748.9" x2="546" y2="748.9" stroke="#444" stroke-width="1.5" stroke-linecap="butt"/>
<path d="M433.2 748.9L416.2 753.5L416.2 744.3Z" fill="#151515"/>
<path d="M507.3 748.9L528.3 744.3L528.3 753.5Z" fill="#151515"/>
<rect x="425" y="757.3" width="96" height="8.3" rx="1.5" fill="#c4c4c4" stroke="#555" stroke-width="1"/>
<line x1="426" y1="760" x2="520" y2="760" stroke="#888" stroke-width="0.8" stroke-linecap="butt"/>
<line x1="426" y1="763" x2="520" y2="763" stroke="#999" stroke-width="0.8" stroke-linecap="butt"/>
<line x1="185.4" y1="668" x2="185.4" y2="771.4" stroke="#444" stroke-width="1.5" stroke-linecap="butt"/>
<path d="M185.4 691L180.6 669L190.2 669Z" fill="#151515"/>
<path d="M185.4 724.8L190.2 746.8L180.6 746.8Z" fill="#151515"/>
<line x1="184.8" y1="771.2" x2="333.5" y2="771.2" stroke="#444" stroke-width="1.4" stroke-linecap="butt"/>
<path d="M124.3 352.8 L124.3 374.6 C130 384 142 389 155 391.2 L155 373.4 C142 370.5 131 364 126.5 357.6 Z" fill="#1c1c1c"/>
<path d="M158.1 383.8 L179.4 372.8 L180.6 377 C200 378.2 225 376 242 369 C252 365 258 361 260.4 358.1 L265.6 350.2 L265.4 370.9 C258 384 225 395 190 395.5 L177 395.3 L175.7 398.9 Z" fill="#1c1c1c"/>
<path d="M124.3 352.8 C126 338 160 327.5 200 326.9 L219.1 326.5 L221 322.9 L232.5 340.5 L216.7 349.6 L216.1 344.1 L200 343.5 C160 343.5 135 349 127.1 357" fill="#fff" stroke="#222" stroke-width="1.1" stroke-linejoin="miter"/>
<path d="M233.1 330.8 C248 334 262 341 265.6 350.2 L260.4 358.1 L233.1 346 Z" fill="#fff" stroke="#222" stroke-width="1.1"/>
<g font-family="Liberation Sans, sans-serif">
<g transform="translate(269.0,239.7) rotate(0)"><path d="M11.54 0.00 L14.98 0.00 L14.98 -27.92 L12.71 -27.92 L11.89 -26.40 L10.22 -24.65 L7.41 -22.81 L4.21 -21.37 L4.21 -18.02 L6.71 -19.07 L9.20 -20.55 L11.54 -22.42Z" fill="#1c1c1c"/><text x="21.68" y="0" font-size="39" fill="#1c1c1c">83</text></g>
<g transform="translate(282.0,125.0) rotate(0)"><text x="0.00" y="0" font-size="39" fill="#1c1c1c">R 90</text></g>
<g transform="translate(281.5,178.8) rotate(8)"><path d="M11.54 0.00 L14.98 0.00 L14.98 -27.92 L12.71 -27.92 L11.89 -26.40 L10.22 -24.65 L7.41 -22.81 L4.21 -21.37 L4.21 -18.02 L6.71 -19.07 L9.20 -20.55 L11.54 -22.42Z" fill="#1c1c1c"/><text x="21.68" y="0" font-size="39" fill="#1c1c1c">5º</text></g>
<g transform="translate(530.6,315.4) rotate(8.5)"><text x="0.00" y="0" font-size="39" fill="#1c1c1c">6º</text></g>
<g transform="translate(158.5,316.1) rotate(0)"><path d="M11.54 0.00 L14.98 0.00 L14.98 -27.92 L12.71 -27.92 L11.89 -26.40 L10.22 -24.65 L7.41 -22.81 L4.21 -21.37 L4.21 -18.02 L6.71 -19.07 L9.20 -20.55 L11.54 -22.42Z" fill="#1c1c1c"/><text x="21.68" y="0" font-size="39" fill="#1c1c1c">80º</text></g>
<g transform="translate(536.0,645.3) rotate(0)"><text x="0.00" y="0" font-size="39" fill="#1c1c1c">Ø 45</text></g>
<g transform="translate(550.4,763.7) rotate(0)"><text x="0.00" y="0" font-size="39" fill="#1c1c1c">Ø 35</text></g>
<g transform="translate(199.1,763.5) rotate(0)"><text x="0.00" y="0" font-size="39" fill="#1c1c1c">50 Max.</text></g>
<g transform="translate(620.0,431.5) rotate(-90)"><text x="0.00" y="0" font-size="39" fill="#1c1c1c">360</text></g>
<g transform="translate(63.1,499.9) rotate(-90)"><text x="0.00" y="0" font-size="39" fill="#1c1c1c">257.5</text></g>
<g transform="translate(367.6,367.0) rotate(-21.8)"><text x="0.00" y="0" font-size="39" fill="#1c1c1c">45º</text></g>
<g transform="translate(268.2,463.1) rotate(-57)"><text x="0.00" y="0" font-size="39" fill="#1c1c1c">45º</text></g>
</g>
</svg></body></html>
